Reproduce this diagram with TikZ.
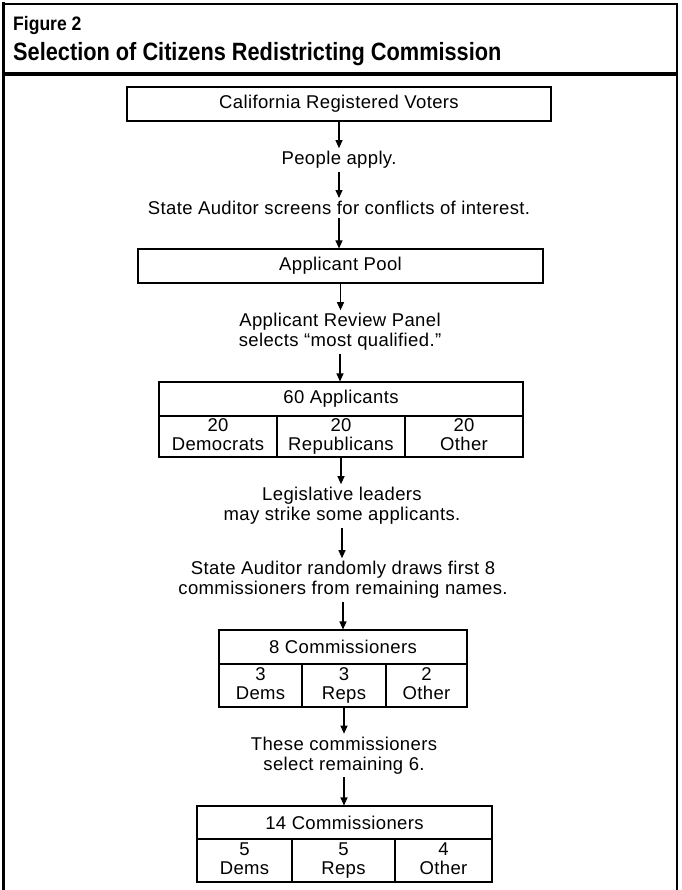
\documentclass[tikz,border=0pt]{standalone}
\usepackage{fontspec}
\usetikzlibrary{arrows.meta}
\newfontfamily\bodyfont{Liberation Sans}[LetterSpace=2]
\newfontfamily\headfont{Liberation Sans}
\newcommand\cellstrut{\rule[-5pt]{0pt}{19pt}}
\newcommand\cl[2]{\cellstrut#1\\\cellstrut#2}
\begin{document}
\begin{tikzpicture}[x=1pt,y=-1pt,
  boxline/.style={draw, line width=1.1pt},
  hdr/.style={boxline, inner sep=0pt, font=\bodyfont\fontsize{18.5}{20}\selectfont},
  cell/.style={boxline, inner sep=0pt, align=center, font=\bodyfont\fontsize{18.5}{19}\selectfont},
  lbl/.style={inner xsep=0pt, inner ysep=3pt, align=center, font=\bodyfont\fontsize{18.5}{20}\selectfont},
  arr/.style={line width=1.1pt, -{Triangle[length=8pt,width=7pt]}},
  frame/.style={line cap=rect}]
\useasboundingbox (0,0) rectangle (681,890);
% frame
\draw[frame, line width=1.5pt] (3,4) -- (677,4);
\draw[frame, line width=3pt] (3,4) -- (3,890);
\draw[frame, line width=2pt] (677,4) -- (677,890);
\draw[line width=4pt] (3,74) -- (677,74);
% titles
\node[anchor=base west, inner sep=0pt] (fig) at (13,31)
  {\scalebox{0.9}[1]{\headfont\bfseries\fontsize{19.5}{22}\selectfont Figure 2}};
\node[anchor=base west, inner sep=0pt] (title) at (13,61)
  {\scalebox{0.87}[1]{\headfont\bfseries\fontsize{25}{28}\selectfont Selection of Citizens Redistricting Commission}};
% box 1
\node[hdr, minimum width=424pt, minimum height=34pt] (b1) at (339,104) {California Registered Voters};
\node[lbl] (t1) at (339,160) {People apply.};
\node[lbl] (t2) at (339,208) {State Auditor screens for conflicts of interest.};
% box 2
\node[hdr, minimum width=405pt, minimum height=34pt] (b2) at (340.5,266) {Applicant Pool};
\node[lbl] (t3) at (340,332) {Applicant Review Panel\\selects “most qualified.”};
% box 3
\node[hdr, minimum width=364pt, minimum height=34pt] (b3) at (341,399) {60 Applicants};
\node[cell, minimum width=118pt, minimum height=41pt] (b3a) at (218,436.5) {\cl{20}{Democrats}};
\node[cell, minimum width=128pt, minimum height=41pt] (b3b) at (341,436.5) {\cl{20}{Republicans}};
\node[cell, minimum width=118pt, minimum height=41pt] (b3c) at (464,436.5) {\cl{20}{Other}};
\node[lbl] (t4) at (342,506) {Legislative leaders\\may strike some applicants.};
\node[lbl] (t5) at (343,580) {State Auditor randomly draws first 8\\commissioners from remaining names.};
% box 4
\node[hdr, minimum width=248pt, minimum height=34pt] (b4) at (343,647) {8 Commissioners};
\node[cell, minimum width=83pt, minimum height=43pt] (b4a) at (260.5,685.5) {\cl{3}{Dems}};
\node[cell, minimum width=84pt, minimum height=43pt] (b4b) at (344,685.5) {\cl{3}{Reps}};
\node[cell, minimum width=81pt, minimum height=43pt] (b4c) at (426.5,685.5) {\cl{2}{Other}};
\node[lbl] (t6) at (344,755.5) {These commissioners\\select remaining 6.};
% box 5
\node[hdr, minimum width=295pt, minimum height=33pt] (b5) at (344.5,822.5) {14 Commissioners};
\node[cell, minimum width=95pt, minimum height=43pt] (b5a) at (244.5,860.5) {\cl{5}{Dems}};
\node[cell, minimum width=103pt, minimum height=43pt] (b5b) at (343.5,860.5) {\cl{5}{Reps}};
\node[cell, minimum width=97pt, minimum height=43pt] (b5c) at (443.5,860.5) {\cl{4}{Other}};
% arrows
\draw[arr] (b1.south) -- (b1.south |- t1.north);
\draw[arr] (t1.south) -- (t1.south |- t2.north);
\draw[arr] (t2.south) -- (t2.south |- b2.north);
\draw[arr] (b2.south) -- (b2.south |- t3.north);
\draw[arr] (t3.south) -- (t3.south |- b3.north);
\draw[arr] (b3b.south) -- (b3b.south |- t4.north);
\draw[arr] (t4.south) -- (t4.south |- t5.north);
\draw[arr] (t5.south) -- (t5.south |- b4.north);
\draw[arr] (b4b.south) -- (b4b.south |- t6.north);
\draw[arr] (t6.south) -- (t6.south |- b5.north);
\end{tikzpicture}
\end{document}
